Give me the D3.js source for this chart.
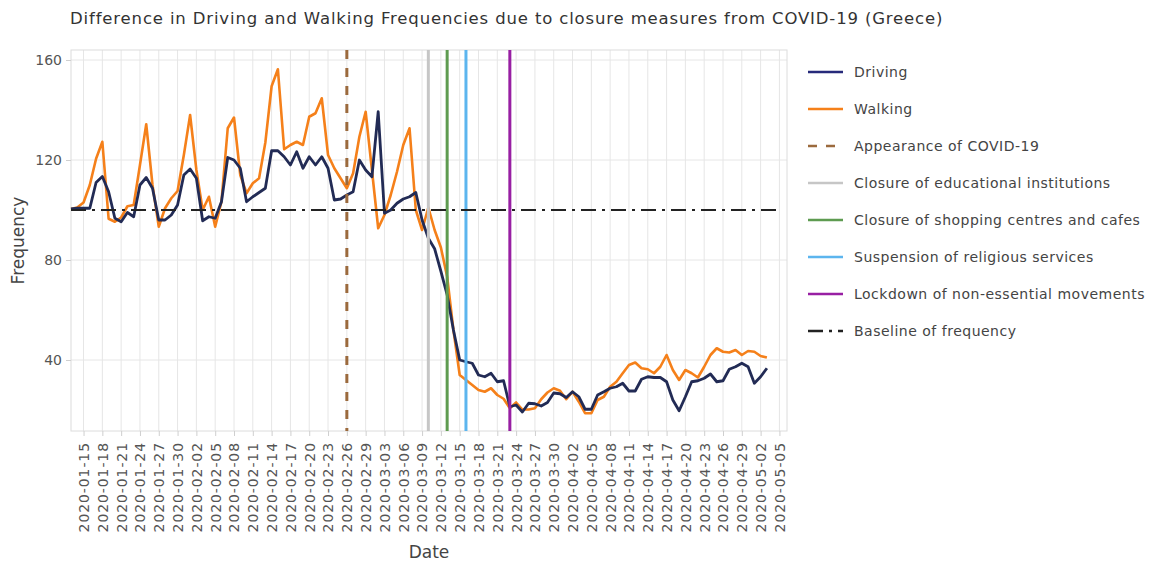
<!DOCTYPE html>
<html>
<head>
<meta charset="utf-8">
<script src="https://cdn.jsdelivr.net/npm/d3@7"></script>
<style>
  body { margin: 0; background: #fff; }
  svg { display: block; font-family: "DejaVu Sans", Verdana, sans-serif; }
</style>
</head>
<body>
<svg id="chart" width="1150" height="564"></svg>
<script>
// ---- data ----
const startDate = "2020-01-13";
const driving = [100.4,100.7,100.7,100.7,111,113.4,107.3,96.7,95.3,99,97.3,110,113,108.7,96,96,98,102,114,116.4,112.7,95.7,97.3,96.7,103.3,121,120,116.7,103.3,105.3,107,108.7,123.7,123.7,121.3,118,123.3,116.7,121.3,118,121.3,116.7,104,104.4,106,107.3,120,116,113.3,139.3,98.7,100,102.7,104.4,105.3,107,96,88.7,84.5,75.5,66,52,40,39.3,38.7,34,33.3,34.7,31.3,31.7,21.3,22,19.2,22.7,22.5,21.6,23,26.8,26.5,25,27.3,25.3,20.3,20.3,26,27.3,28.7,29.3,30.7,27.6,27.6,32.3,33.3,33,33,31.3,24,19.7,25.3,31.3,31.7,32.7,34.4,31.3,31.7,36.3,37.3,38.7,37.3,30.7,33.3,36.7];
const walking = [100.4,101,103,110,120.5,127.3,96.5,95.3,97,101.5,102,118,134.3,110,93.3,100.7,104.7,107.6,122,138,116,100,105.3,93.3,103.3,132.7,137,114,106.7,110.7,112.7,127,149.5,156.3,124.3,126,127.3,126,137.3,138.7,144.7,122,116.7,112.7,108.7,114.7,129.3,139.3,116,92.7,98,106,115.3,126,132.7,100,92,101,92,85,73.3,52,34,32,30,28,27.3,28.7,26,24.5,20.7,23,20.2,20.2,20.7,24.3,27,28.7,27.7,24.3,27.3,23.3,18.7,18.7,24,25.3,29.3,31.3,34.7,38,39,36.7,36.3,34.7,37.3,42,36,32,36,34.7,33,37.3,42,44.7,43.3,43,44,42,43.6,43.3,41.6,41];
const eventNames = ["Appearance of COVID-19","Closure of educational institutions","Closure of shopping centres and cafes","Suspension of religious services","Lockdown of non-essential movements"];
const eventDates = ["2020-02-26","2020-03-10","2020-03-13","2020-03-16","2020-03-23"];
const eventColors = ["#9b6a3d","#c6c6c6","#5e9b50","#5cb5ee","#981fa3"];
const baselineValue = 100;
const baselineDates = ["2020-01-13","2020-05-05"];
const yTicks = [40, 80, 120, 160];
const tickStart = "2020-01-15", tickEnd = "2020-05-05";
const title = "Difference in Driving and Walking Frequencies due to closure measures from COVID-19 (Greece)";

// ---- setup ----
const parse = d3.utcParse("%Y-%m-%d");
const fmt = d3.utcFormat("%Y-%m-%d");
const t0 = parse(startDate);
const dates = driving.map((_, i) => d3.utcDay.offset(t0, i));

const svg = d3.select("#chart");
const L = 71, R = 787, T = 50, B = 431;
const x = d3.scaleUtc().domain([t0, new Date(Date.UTC(2020, 4, 6, 5))]).range([L, R]);
const y = d3.scaleLinear().domain([11.6, 164]).range([B, T]);

const tickVals = d3.utcDay.range(parse(tickStart), d3.utcDay.offset(parse(tickEnd), 1), 3);

// grid
const g = svg.append("g");
g.selectAll("line.vg").data(tickVals).join("line")
  .attr("x1", d => x(d)).attr("x2", d => x(d)).attr("y1", T).attr("y2", B)
  .attr("stroke", "#e6e6e6").attr("stroke-width", 1);
g.selectAll("line.hg").data(yTicks).join("line")
  .attr("x1", L).attr("x2", R).attr("y1", d => y(d)).attr("y2", d => y(d))
  .attr("stroke", "#e6e6e6").attr("stroke-width", 1);

// frame
svg.append("rect").attr("x", L).attr("y", T).attr("width", R - L).attr("height", B - T)
  .attr("fill", "none").attr("stroke", "#dcdcdc").attr("stroke-width", 1);

// axes
const xAxis = svg.append("g").attr("transform", `translate(0,${B})`)
  .call(d3.axisBottom(x).tickValues(tickVals).tickFormat(fmt).tickSize(5).tickPadding(4));
xAxis.select(".domain").remove();
xAxis.selectAll(".tick line").attr("stroke", "#cfcfcf");
xAxis.selectAll(".tick text")
  .attr("transform", "rotate(-90)")
  .attr("text-anchor", "end")
  .attr("x", -11).attr("y", 0).attr("dy", "0.35em")
  .attr("fill", "#555").style("font-size", "14px").style("letter-spacing", "0.9px")
  .style("font-family", "DejaVu Sans, Verdana, sans-serif");

const yAxis = svg.append("g").attr("transform", `translate(${L},0)`)
  .call(d3.axisLeft(y).tickValues(yTicks).tickSize(5).tickPadding(4));
yAxis.select(".domain").remove();
yAxis.selectAll(".tick line").attr("stroke", "#cfcfcf");
yAxis.selectAll(".tick text").attr("fill", "#555").style("font-size", "14px")
  .style("font-family", "DejaVu Sans, Verdana, sans-serif");

// series lines
const line = d3.line().x((d, i) => x(dates[i])).y(d => y(d));
const plot = svg.append("g");
plot.append("path").datum(walking).attr("d", line)
  .attr("fill", "none").attr("stroke", "#f5801a").attr("stroke-width", 2.6).attr("stroke-linejoin", "round");
plot.append("path").datum(driving).attr("d", line)
  .attr("fill", "none").attr("stroke", "#222b55").attr("stroke-width", 2.8).attr("stroke-linejoin", "round");

// event lines
eventDates.forEach((d, i) => {
  plot.append("line")
    .attr("x1", x(parse(d))).attr("x2", x(parse(d)))
    .attr("y1", T).attr("y2", B)
    .attr("stroke", eventColors[i]).attr("stroke-width", 3)
    .attr("stroke-dasharray", i === 0 ? "9,9" : null);
});

// baseline
plot.append("line")
  .attr("x1", x(parse(baselineDates[0]))).attr("x2", x(parse(baselineDates[1])))
  .attr("y1", y(baselineValue)).attr("y2", y(baselineValue))
  .attr("stroke", "#222").attr("stroke-width", 2)
  .attr("stroke-dasharray", "15,6,3,6");

// title
svg.append("text").attr("x", 70).attr("y", 24).text(title)
  .attr("fill", "#333").style("font-size", "16.5px").style("letter-spacing", "0.85px");

// axis titles
svg.append("text").attr("x", (L + R) / 2).attr("y", 558).attr("text-anchor", "middle")
  .text("Date").attr("fill", "#444").style("font-size", "17px");
svg.append("text").attr("transform", `translate(24,${(T + B) / 2}) rotate(-90)`)
  .attr("text-anchor", "middle").text("Frequency").attr("fill", "#444").style("font-size", "17px");

// legend
const legendItems = [
  { name: "Driving", color: "#262a7a", dash: null },
  { name: "Walking", color: "#f5801a", dash: null },
  ...eventNames.map((n, i) => ({ name: n, color: eventColors[i], dash: i === 0 ? "9,9" : null })),
  { name: "Baseline of frequency", color: "#222", dash: "15,6,3,6" }
];
const leg = svg.append("g");
legendItems.forEach((it, i) => {
  const yy = 72 + i * 37;
  leg.append("line").attr("x1", 808).attr("x2", 843).attr("y1", yy).attr("y2", yy)
    .attr("stroke", it.color).attr("stroke-width", 2.5)
    .attr("stroke-dasharray", it.dash);
  leg.append("text").attr("x", 854).attr("y", yy).attr("dy", "0.35em")
    .text(it.name).attr("fill", "#444").style("font-size", "14px").style("letter-spacing", "0.5px");
});
</script>
</body>
</html>
